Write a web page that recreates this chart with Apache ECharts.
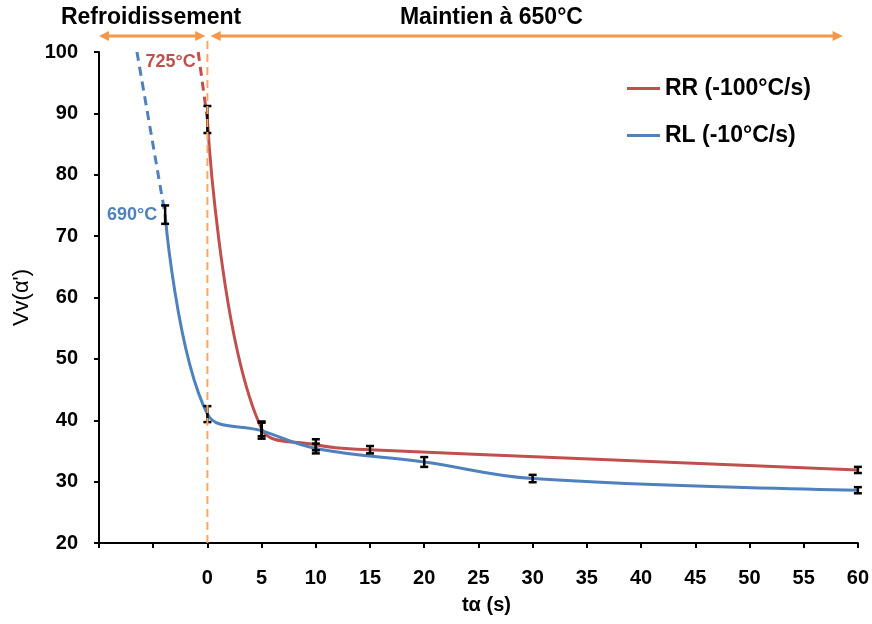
<!DOCTYPE html>
<html>
<head>
<meta charset="utf-8">
<script src="https://cdn.jsdelivr.net/npm/echarts@6/dist/echarts.min.js"></script>
<style>
  html, body { margin: 0; padding: 0; background: #fff; }
  #chart { width: 872px; height: 624px; }
</style>
</head>
<body>
<div id="chart"></div>
<script>
// RR (-100°C/s) points: t, Vv, error
const rrTimes = [0, 5, 10, 15, 60];
const rrValues = [89, 38.6, 36.0, 35.2, 31.9];
const rrErrors = [2.2, 1.2, 0.9, 0.6, 0.5];
// dashed extrapolation up to the cooling start
const rrDashTimes = [-0.85, 0];
const rrDashValues = [100, 89];

// RL (-10°C/s)
const rlTimes = [-3.9, 0, 5, 10, 20, 30, 60];
const rlValues = [73.5, 41.0, 38.3, 35.4, 33.2, 30.5, 28.6];
const rlErrors = [1.5, 1.3, 1.3, 0.8, 0.8, 0.6, 0.5];
const rlDashTimes = [-6.5, -3.9];
const rlDashValues = [100, 73.5];

// phase arrows above the plot (x ranges) and their titles
const phaseRanges = [[-10, -0.2], [0.3, 58.6]];
const phaseTitles = ['Refroidissement', 'Maintien à 650°C'];
const phaseTitleX = [-5.2, 26.2];

const RED = '#C0504D';
const BLUE = '#4F81BD';
const ORANGE = '#F79646';
const FONT = "'Liberation Sans', Arial, sans-serif";

const zip = (xs, ys) => xs.map((x, i) => [x, ys[i]]);
const zip3 = (xs, ys, es) => xs.map((x, i) => [x, ys[i], es[i]]);

function errorBars(params, api) {
  const x = api.value(0);
  const y = api.value(1);
  const e = api.value(2);
  const top = api.coord([x, y + e]);
  const bot = api.coord([x, y - e]);
  const hw = 4;
  const style = { stroke: '#000', lineWidth: 2.5 };
  return {
    type: 'group',
    children: [
      { type: 'line', shape: { x1: top[0], y1: top[1], x2: bot[0], y2: bot[1] }, style },
      { type: 'line', shape: { x1: top[0] - hw, y1: top[1], x2: top[0] + hw, y2: top[1] }, style },
      { type: 'line', shape: { x1: bot[0] - hw, y1: bot[1], x2: bot[0] + hw, y2: bot[1] }, style }
    ]
  };
}

const chart = echarts.init(document.getElementById('chart'), null, { renderer: 'canvas' });

chart.setOption({
  animation: false,
  grid: { left: 99, right: 14, top: 52, bottom: 81 },
  legend: {
    orient: 'vertical',
    left: 622,
    top: 72,
    itemGap: 24,
    itemWidth: 33,
    itemHeight: 3,
    icon: 'rect',
    data: ['RR (-100°C/s)', 'RL (-10°C/s)'],
    textStyle: { fontFamily: FONT, fontWeight: 'bold', fontSize: 23, color: '#000' }
  },
  xAxis: {
    type: 'value',
    min: -10,
    max: 60,
    interval: 5,
    name: 'tα (s)',
    nameLocation: 'middle',
    nameGap: 52,
    nameTextStyle: { fontFamily: FONT, fontWeight: 'bold', fontSize: 20, color: '#000', padding: [0, 0, 0, 16] },
    axisLine: { onZero: false, lineStyle: { color: '#000', width: 2 } },
    axisTick: { show: true, inside: false, length: 5, lineStyle: { color: '#000', width: 2 } },
    axisLabel: {
      margin: 25,
      fontFamily: FONT,
      fontWeight: 'bold',
      fontSize: 20,
      color: '#000',
      formatter: (v) => (v < 0 ? '' : String(v))
    },
    splitLine: { show: false }
  },
  yAxis: {
    type: 'value',
    min: 20,
    max: 100,
    interval: 10,
    name: "Vv(α')",
    nameLocation: 'middle',
    nameGap: 66,
    nameTextStyle: { fontFamily: FONT, fontSize: 22, color: '#000' },
    axisLine: { show: true, onZero: false, lineStyle: { color: '#000', width: 2 } },
    axisTick: { show: true, inside: false, length: 5, lineStyle: { color: '#000', width: 2 } },
    axisLabel: { margin: 21, fontFamily: FONT, fontWeight: 'bold', fontSize: 20, color: '#000' },
    splitLine: { show: false }
  },
  series: [
    {
      name: 'RR (-100°C/s)',
      type: 'line',
      smooth: 0.45,
      showSymbol: false,
      color: RED,
      lineStyle: { color: RED, width: 3 },
      data: zip(rrTimes, rrValues),
      z: 3
    },
    {
      name: 'RR dashed',
      type: 'line',
      showSymbol: false,
      color: RED,
      lineStyle: { color: RED, width: 3, type: [9, 6] },
      data: zip(rrDashTimes, rrDashValues),
      markPoint: {
        symbol: 'circle',
        symbolSize: 0,
        label: {
          show: true,
          formatter: '725°C',
          color: RED,
          fontFamily: FONT,
          fontWeight: 'bold',
          fontSize: 18
        },
        data: [{ coord: [-3.4, 98.3] }]
      },
      z: 3
    },
    {
      name: 'RL (-10°C/s)',
      type: 'line',
      smooth: 0.4,
      showSymbol: false,
      color: BLUE,
      lineStyle: { color: BLUE, width: 3 },
      data: zip(rlTimes, rlValues),
      z: 3
    },
    {
      name: 'RL dashed',
      type: 'line',
      showSymbol: false,
      color: BLUE,
      lineStyle: { color: BLUE, width: 3, type: [9, 6] },
      data: zip(rlDashTimes, rlDashValues),
      markPoint: {
        symbol: 'circle',
        symbolSize: 0,
        label: {
          show: true,
          formatter: '690°C',
          color: BLUE,
          fontFamily: FONT,
          fontWeight: 'bold',
          fontSize: 18
        },
        data: [{ coord: [-6.95, 73.5] }]
      },
      z: 3
    },
    {
      name: 'RR err',
      type: 'custom',
      renderItem: errorBars,
      data: zip3(rrTimes, rrValues, rrErrors),
      z: 4
    },
    {
      name: 'RL err',
      type: 'custom',
      renderItem: errorBars,
      data: zip3(rlTimes, rlValues, rlErrors),
      z: 4
    }
  ]
});

// phase arrows, titles and the dashed start-of-hold line
function px(x, y) {
  return chart.convertToPixel({ xAxisIndex: 0, yAxisIndex: 0 }, [x, y]);
}

const arrowY = 36;
const graphics = [];
phaseRanges.forEach(([a, b]) => {
  const x1 = px(a, 100)[0];
  const x2 = px(b, 100)[0];
  const head = 10;
  graphics.push({
    type: 'line',
    shape: { x1: x1 + head - 1, y1: arrowY, x2: x2 - head + 1, y2: arrowY },
    style: { stroke: ORANGE, lineWidth: 3 }
  });
  graphics.push({
    type: 'polygon',
    shape: { points: [[x1, arrowY], [x1 + head, arrowY - 5], [x1 + head, arrowY + 5]] },
    style: { fill: ORANGE }
  });
  graphics.push({
    type: 'polygon',
    shape: { points: [[x2, arrowY], [x2 - head, arrowY - 5], [x2 - head, arrowY + 5]] },
    style: { fill: ORANGE }
  });
});
phaseTitles.forEach((t, i) => {
  graphics.push({
    type: 'text',
    x: px(phaseTitleX[i], 100)[0],
    y: 18,
    style: {
      text: t,
      fill: '#000',
      font: `bold 23px ${FONT}`,
      align: 'center',
      verticalAlign: 'middle'
    }
  });
});
const zeroTop = px(0, 100);
const zeroBot = px(0, 20);
graphics.push({
  type: 'line',
  shape: { x1: zeroTop[0], y1: 41, x2: zeroBot[0], y2: zeroBot[1] },
  style: { stroke: '#F8A862', lineWidth: 2, lineDash: [8, 5] },
  z: 10
});

chart.setOption({ graphic: graphics });
</script>
</body>
</html>
